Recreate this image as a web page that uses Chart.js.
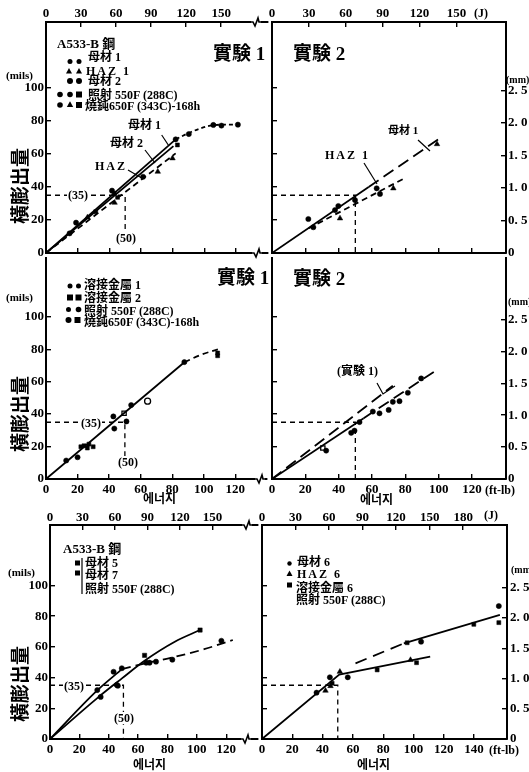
<!DOCTYPE html>
<html>
<head>
<meta charset="utf-8">
<script src="https://cdn.jsdelivr.net/npm/chart.js@4.4.1/dist/chart.umd.min.js"></script>
<style>
  body { margin: 0; background: #fff; }
  #page { position: relative; width: 529px; height: 772px; overflow: hidden; background: #fff; }
  canvas { position: absolute; }
  svg { position: absolute; left: 0; top: 0; }
  .t { position: absolute; white-space: nowrap; color: #000; line-height: 1; font-weight: bold;
       font-family: "Liberation Serif", "Noto Sans CJK JP", serif; transform: translateY(-50%); }
  .bg { background: #fff; padding: 0 1px; }
  .sp { letter-spacing: 2px; }
  .yt { position: absolute; white-space: nowrap; font-family: "Noto Sans CJK JP", sans-serif; font-weight: 700;
        font-size: 19px; line-height: 1; transform: translate(-50%, -50%) rotate(-90deg); }
</style>
</head>
<body>
<div id="page">
  <canvas id="pA"></canvas>
  <canvas id="pB"></canvas>
  <canvas id="pC"></canvas>
  <canvas id="pD"></canvas>
  <canvas id="pE"></canvas>
  <canvas id="pF"></canvas>
</div>
<script>
const FT_LB_TO_J = 1.3558;
const MILS_PER_MM = 39.37;

// tick values
const ftTicks = [0, 20, 40, 60, 80, 100, 120];
const ftTicksLong = [0, 20, 40, 60, 80, 100, 120, 140];
const jTicks = [0, 30, 60, 90, 120, 150];
const jTicksLong = [0, 30, 60, 90, 120, 150, 180];
const milTicks = [0, 20, 40, 60, 80, 100];
const mmTicks = [0, 0.5, 1.0, 1.5, 2.0, 2.5];

// A533-B, test 1 (ft-lb, mils)
const aCircles = [[14.9, 11.9], [19, 18.4], [41.7, 37.8], [61.3, 46.2], [81.9, 68.9], [90.2, 72.1], [105.7, 77.6], [110.8, 77.2], [121.2, 77.8]];
const aTriangles = [[26.2, 21.6], [43.3, 30.5], [70.6, 49.3], [79.9, 57.4]];
const aSquares = [[31.4, 25], [43.1, 36.2], [45.2, 33.7], [83, 65.5]];
const aBase1Fit = [[0, 0], [81.9, 68.9]];
const aBase1Curve = [[81.9, 68.9], [92, 73.5], [103, 77], [112, 77.8], [121.2, 77.8]];
const aBase2Fit = [[0, 0], [80.5, 64.8]];
const aHazFit = [[0, 0], [81.9, 60.4]];
const refA = [[0, 35], [50, 35], [50, 14]];

// A533-B, test 2
const bCircles = [[21.8, 20.6], [24.8, 15.6], [37.8, 26], [39.8, 28.5], [49.8, 32.1], [62.8, 39.2], [64.8, 35.8]];
const bTriangles = [[40.8, 21], [72.8, 39.2], [99, 66]];
const bBase1Solid = [[0, 0], [58, 40]];
const bBase1Dash = [[58, 40], [102, 70.4]];
const bHazLine = [[22, 15], [79, 45]];
const refB = [[0, 35], [50, 35], [50, 0]];

// weld metal, test 1
const cCircles = [[12.8, 11.4], [20, 13.4], [42.7, 38.6], [43.3, 31.1], [51, 35.5], [54, 45.6], [87.7, 72.1]];
const cSquares = [[22.1, 19.9], [24.1, 20.5], [26.2, 19.1], [27.2, 21.5], [29.9, 19.9], [108.8, 77.7], [108.8, 76]];
const cOpenCircles = [[64.4, 48]];
const cOpenSquares = [[49.5, 40.5]];
const cFit = [[0, 0], [87.7, 72]];
const cCurve = [[87.7, 72], [98, 76.5], [109, 80]];
const refC = [[0, 35], [50, 35], [50, 13]];

// weld metal, test 2
const dCircles = [[32.5, 17.5], [47.5, 28.5], [49.5, 29.8], [52.5, 35.1], [60.5, 41.6], [64.5, 40.5], [70, 42.6], [72.5, 47.6], [76.5, 48], [81.5, 53.2], [89.5, 62]];
const dOpenSquares = [[30.5, 19.1]];
const dTest1 = [[0, 0], [72.5, 57.5]];
const dFit = [[0, 0], [55, 37.5]];
const dFitDash = [[55, 37.5], [99.5, 67.7]];
const refD = [[0, 35], [50, 35], [50, 0]];

// base metal 5 / 7
const eCircles = [[32.2, 31.9], [34.5, 27.4], [43.3, 43.8], [45.5, 35.2], [46.2, 34.7], [48.9, 46.1], [65.5, 49.7], [67.8, 49.7], [72.2, 50.4], [83.3, 51.7], [116.7, 64]];
const eSquares = [[64.4, 54.5], [102.2, 71]];
const eCurve = [[0, 0], [32, 26.5], [49, 39.5], [64.4, 51], [85, 63.4], [102.2, 71]];
const eLineSolid = [[0, 0], [32, 31.5], [49, 45.5]];
const eLineDash = [[49, 45.5], [65, 49.3], [85, 53.5], [105, 58.5], [124.5, 64.5]];
const refE = [[0, 35], [50, 35], [50, 0]];

// base 6, HAZ 6, weld 6
const fCircles = [[36, 30.2], [44.8, 40.2], [56.6, 40.2], [105, 63.4], [156.3, 86.6]];
const fTriangles = [[41.9, 31.5], [45.2, 34.5], [51.4, 43.8], [98, 51.5]];
const fSquares = [[46.3, 36.3], [76, 45], [95.8, 62.7], [102, 49.7], [139.8, 74.7], [156.3, 75.8]];
const fLower = [[0, 0], [51, 42], [111, 53.6]];
const fUpperDash = [[61.7, 49.3], [93.6, 62.3]];
const fUpperSolid = [[93.6, 62.3], [157, 80.8]];
const refF = [[0, 35], [50, 35], [50, 0]];

const tickFont = { family: 'Liberation Serif', size: 13, weight: 'bold' };
const pts = arr => arr.map(([x, y]) => ({ x, y }));

function dots(arr, style, r, open) {
  return {
    data: pts(arr), pointStyle: style, pointRadius: r, showLine: false,
    backgroundColor: open ? '#fff' : '#000', borderColor: '#000', borderWidth: open ? 1.3 : 0.5,
  };
}

function line(arr, dash, curve, width) {
  return {
    data: pts(arr), showLine: true, pointRadius: 0, fill: false,
    borderColor: '#000', borderWidth: width || 1.8, borderDash: dash || [],
    tension: curve ? 0.4 : 0, cubicInterpolationMode: curve ? 'monotone' : 'default',
  };
}

const refLine = arr => line(arr, [5, 4], false, 1.3);

function axis(position, max, values, size, labels, pad, fmt) {
  const horiz = position === 'top' || position === 'bottom';
  return {
    type: 'linear', position, min: 0, max,
    afterBuildTicks: s => { s.ticks = values.map(v => ({ value: v })); },
    afterFit: s => {
      if (horiz) s.height = size; else s.width = size;
      s.paddingLeft = s.paddingRight = s.paddingTop = s.paddingBottom = 0;
    },
    border: { display: true, color: '#000', width: 2 },
    grid: { drawOnChartArea: false, tickLength: -5, color: '#000', lineWidth: 1.4 },
    ticks: {
      display: labels, padding: pad, color: '#000', font: tickFont,
      maxRotation: 0, autoSkip: false, callback: fmt || (v => v),
    },
  };
}

const mmLabel = v => (v === 0 ? '0' : v.toFixed(1).replace('.', '. '));

function panel(p) {
  const [cx, cy, cw, ch] = p.box;
  const [l, t, r, b] = p.area;
  const el = document.getElementById(p.id);
  el.width = cw; el.height = ch;
  el.style.left = cx + 'px'; el.style.top = cy + 'px';

  const scales = {
    x: axis('bottom', p.xMax, p.bottom[0], cy + ch - b, p.bottom[1], p.bottom[2]),
    y: axis('left', p.yMax, milTicks, l - cx, p.leftLabels, 7),
  };
  if (p.top) scales.x2 = axis('top', p.xMax * FT_LB_TO_J, p.top[0], t - cy, p.top[1], p.top[2]);
  if (p.right) scales.y2 = axis('right', p.yMax / MILS_PER_MM, mmTicks, cx + cw - r, true, p.right, mmLabel);

  return new Chart(el, {
    type: 'scatter',
    data: { datasets: p.sets },
    options: {
      responsive: false, animation: false, events: [],
      layout: { padding: 0 },
      plugins: { legend: { display: false }, tooltip: { enabled: false } },
      scales,
    },
  });
}

panel({
  id: 'pA', box: [0, 0, 272, 262], area: [46, 22, 272, 253], xMax: 139.9, yMax: 140,
  bottom: [ftTicks, false, 8], top: [jTicks, true, 6], leftLabels: true,
  sets: [
    line(aBase1Fit), line(aBase1Curve, [4, 3], true), line(aBase2Fit), line(aHazFit, [6, 4]), refLine(refA),
    dots(aCircles, 'circle', 2.6), dots(aTriangles, 'triangle', 3.2), dots(aSquares, 'rect', 2.8),
  ],
});

panel({
  id: 'pB', box: [262, 0, 267, 262], area: [272, 22, 506, 253], xMax: 140.4, yMax: 140,
  bottom: [ftTicks, false, 8], top: [jTicks, true, 6], leftLabels: false, right: 7,
  sets: [
    line(bBase1Solid), line(bBase1Dash, [12, 6]), line(bHazLine, [6, 4]), refLine(refB),
    dots(bCircles, 'circle', 2.6), dots(bTriangles, 'triangle', 3.2),
  ],
});

panel({
  id: 'pC', box: [0, 253, 272, 247], area: [46, 253, 272, 479], xMax: 139.9, yMax: 136.1,
  bottom: [ftTicks, true, 8], leftLabels: true,
  sets: [
    line(cFit), line(cCurve, [6, 4], true), refLine(refC),
    dots(cCircles, 'circle', 2.6), dots(cSquares, 'rect', 2.8),
    dots(cOpenCircles, 'circle', 3, true), dots(cOpenSquares, 'rect', 3, true),
  ],
});

panel({
  id: 'pD', box: [262, 253, 267, 247], area: [272, 253, 506, 479], xMax: 140.4, yMax: 136.1,
  bottom: [ftTicks, true, 8], leftLabels: false, right: 7,
  sets: [
    line(dTest1, [12, 6]), line(dFit), line(dFitDash, [12, 6]), refLine(refD),
    dots(dCircles, 'circle', 2.6), dots(dOpenSquares, 'rect', 3, true),
  ],
});

panel({
  id: 'pE', box: [0, 508, 262, 264], area: [50, 525, 262, 739], xMax: 141.3, yMax: 139.4,
  bottom: [ftTicks, true, 8], top: [jTicks, true, 5], leftLabels: true,
  sets: [
    line(eCurve, null, true), line(eLineSolid, null, true), line(eLineDash, [9, 5], true), refLine(refE),
    dots(eCircles, 'circle', 2.6), dots(eSquares, 'rect', 3),
  ],
});

panel({
  id: 'pF', box: [252, 508, 277, 264], area: [262, 525, 507, 739], xMax: 161.7, yMax: 139.4,
  bottom: [ftTicksLong, true, 8], top: [jTicksLong, true, 5], leftLabels: false, right: 8,
  sets: [
    line(fLower), line(fUpperDash, [12, 7]), line(fUpperSolid), refLine(refF),
    dots(fCircles, 'circle', 2.6), dots(fTriangles, 'triangle', 3.2), dots(fSquares, 'rect', 2.8),
  ],
});

// text labels: [text, x, y(centre), size, extra class]
const notes = [
  ['A533-B 鋼', 57, 43, 13], ['母材 1', 88, 57, 12], ['HAZ 1', 86, 71, 12, 'sp'], ['母材 2', 88, 81, 12],
  ['照射 550F (288C)', 88, 95, 12], ['燒鈍650F (343C)-168h', 85, 106, 12],
  ['實験 1', 213, 53, 19], ['(mils)', 6, 75, 11],
  ['母材 1', 128, 125, 12], ['母材 2', 110, 143, 12], ['HAZ', 95, 166, 12, 'sp'],
  ['(35)', 67, 195, 12, 'bg'], ['(50)', 115, 238, 12, 'bg'],
  ['實験 2', 293, 53, 19], ['母材 1', 388, 130, 11], ['HAZ 1', 325, 155, 12, 'sp'],
  ['(J)', 474, 13, 12], ['(mm)', 506, 80, 10],

  ['溶接金屬 1', 84, 285, 12], ['溶接金屬 2', 84, 298, 12], ['照射 550F (288C)', 84, 311, 12],
  ['燒鈍650F (343C)-168h', 84, 322, 12], ['實験 1', 217, 277, 19], ['(mils)', 6, 297, 11],
  ['(35)', 80, 423, 12, 'bg'], ['(50)', 117, 462, 12, 'bg'], ['에너지', 143, 499, 12],
  ['實験 2', 293, 278, 19], ['(實験 1)', 337, 371, 12], ['에너지', 360, 500, 12],
  ['(ft-lb)', 485, 490, 12], ['(mm)', 508, 302, 10],

  ['A533-B 鋼', 63, 548, 13], ['母材 5', 85, 563, 12], ['母材 7', 85, 575, 12],
  ['照射 550F (288C)', 85, 589, 12], ['(mils)', 8, 572, 11],
  ['(35)', 63, 686, 12, 'bg'], ['(50)', 113, 718, 12, 'bg'], ['에너지', 133, 765, 12],
  ['母材 6', 297, 562, 12], ['HAZ 6', 297, 574, 12, 'sp'], ['溶接金屬 6', 296, 588, 12],
  ['照射 550F (288C)', 296, 600, 12], ['(J)', 484, 515, 12], ['(mm)', 511, 570, 10],
  ['(ft-lb)', 489, 750, 12], ['에너지', 357, 765, 12],
];
const yTitles = [[18, 186], [18, 414], [18, 684]];

// leader lines, legend symbols and axis breaks
const leaders = [
  [[161.7, 135], [168.3, 145]], [[145, 150], [155, 163]], [[128, 170], [141.7, 178]],
  [[418, 140], [430, 151]], [[364, 163], [377, 184]],
  [[377, 383], [383, 394], [395, 386]],
  [[82, 558], [82, 594]],
];
const legendMarks = [
  ['c', 70, 61.5, 2.5], ['c', 79, 61.5, 2.5], ['t', 69, 71, 3], ['t', 79, 71, 3],
  ['c', 70, 81, 3], ['c', 79, 81, 3], ['c', 60, 94.5, 2.8], ['c', 70, 94.5, 2.8], ['s', 79, 94.5, 3],
  ['c', 60, 105, 2.8], ['t', 70, 104.5, 3.2], ['s', 79, 105, 3],
  ['c', 70, 286, 2.5], ['c', 78.5, 286, 2.5], ['s', 70, 297.5, 3], ['s', 78.5, 297.5, 3],
  ['c', 68.5, 309.5, 2.5], ['c', 78.5, 309.5, 2.8], ['c', 68.5, 320, 3], ['s', 77.5, 320, 3],
  ['s', 77.5, 563, 2.5], ['s', 77.5, 573, 2.5],
  ['c', 289.5, 563.5, 2.2], ['t', 289.5, 573.5, 3], ['s', 289.5, 585, 2.5],
];
const breaks = [[256, 22], [257, 253], [260, 479], [247, 525], [246, 739]];

const page = document.getElementById('page');
const svgNS = 'http://www.w3.org/2000/svg';
const svg = document.createElementNS(svgNS, 'svg');
svg.setAttribute('width', 529);
svg.setAttribute('height', 772);
page.appendChild(svg);

function svgEl(tag, attrs) {
  const e = document.createElementNS(svgNS, tag);
  for (const k in attrs) e.setAttribute(k, attrs[k]);
  svg.appendChild(e);
  return e;
}

leaders.forEach(pl => svgEl('polyline', {
  points: pl.map(p => p.join(',')).join(' '), fill: 'none', stroke: '#000', 'stroke-width': 1.2,
}));

legendMarks.forEach(([k, x, y, r]) => {
  if (k === 'c') svgEl('circle', { cx: x, cy: y, r, fill: '#000' });
  else if (k === 's') svgEl('rect', { x: x - r, y: y - r, width: 2 * r, height: 2 * r, fill: '#000' });
  else svgEl('polygon', { points: `${x},${y - r} ${x + r},${y + r * 0.8} ${x - r},${y + r * 0.8}`, fill: '#000' });
});

breaks.forEach(([x, y]) => {
  svgEl('rect', { x: x - 5, y: y - 3, width: 10, height: 6, fill: '#fff' });
  svgEl('path', {
    d: `M${x - 6} ${y} L${x - 3} ${y} L${x - 1} ${y + 4} L${x + 2} ${y - 4} L${x + 3} ${y} L${x + 6} ${y}`,
    fill: 'none', stroke: '#000', 'stroke-width': 1.6,
  });
});

notes.forEach(([text, x, y, size, cls]) => {
  const s = document.createElement('span');
  s.className = 't' + (cls ? ' ' + cls : '');
  s.textContent = text;
  s.style.left = x + 'px';
  s.style.top = y + 'px';
  s.style.fontSize = size + 'px';
  page.appendChild(s);
});

yTitles.forEach(([x, y]) => {
  const s = document.createElement('span');
  s.className = 'yt';
  s.textContent = '橫膨出量';
  s.style.left = x + 'px';
  s.style.top = y + 'px';
  page.appendChild(s);
});
</script>
</body>
</html>
